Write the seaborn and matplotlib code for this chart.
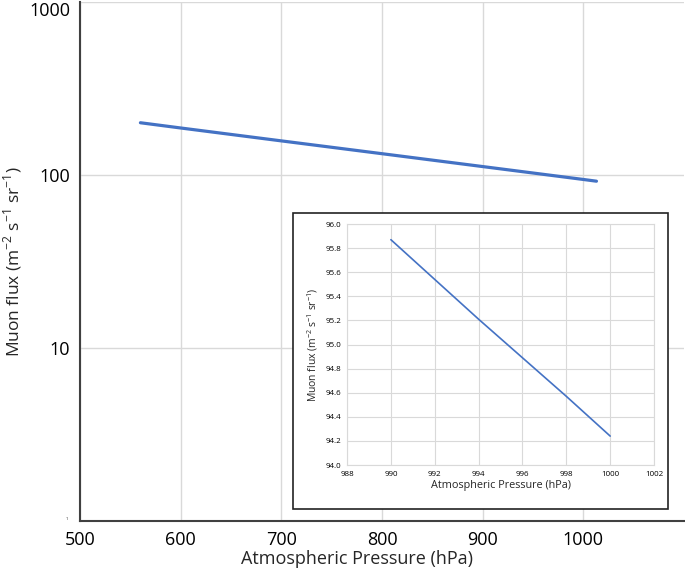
import numpy as np
import pandas as pd
import seaborn as sns
import matplotlib.pyplot as plt
from matplotlib.patches import Rectangle
from matplotlib.ticker import FixedLocator, FixedFormatter, FormatStrFormatter

# main curve
pressure = [560, 600, 700, 800, 900, 1000, 1013]
flux = [200.5, 187.0, 157.5, 132.8, 111.9, 94.24, 92.1]

# inset (zoom around 990-1000 hPa)
inset_pressure = [990, 992, 994, 996, 998, 1000]
inset_flux = [95.87, 95.54, 95.21, 94.89, 94.57, 94.24]

main_df = pd.DataFrame({'pressure': pressure, 'flux': flux})
inset_df = pd.DataFrame({'pressure': inset_pressure, 'flux': inset_flux})

sns.set_theme(style="whitegrid")
plt.rcParams['font.family'] = ['Open Sans', 'DejaVu Sans']
plt.rcParams['mathtext.fontset'] = 'custom'
plt.rcParams['mathtext.rm'] = 'Open Sans'

line_color = '#4472C4'
grid_color = '#d9d9d9'

fig = plt.figure(figsize=(6.85, 5.75), dpi=100)
ax = fig.add_axes([0.1168, 0.0939, 0.8818, 0.9026])

sns.lineplot(data=main_df, x='pressure', y='flux', ax=ax, color=line_color, linewidth=2.3)
ax.set_yscale('log')
ax.set_xlim(500, 1100)
ax.set_ylim(1, 1000)
ax.set_xticks([500, 600, 700, 800, 900, 1000])
ax.yaxis.set_major_locator(FixedLocator([1, 10, 100, 1000]))
ax.yaxis.set_major_formatter(FixedFormatter(['', '10', '100', '1000']))
ax.yaxis.set_minor_locator(FixedLocator([]))
ax.grid(True, color=grid_color, linewidth=1.0)
ax.tick_params(axis='both', labelsize=13, length=0, pad=7, colors='black')
ax.set_xlabel('Atmospheric Pressure (hPa)', fontsize=13, labelpad=3)
ax.xaxis.set_label_coords(0.459, -0.055)
ax.set_ylabel(r'Muon flux (m$^{-2}$ s$^{-1}$ sr$^{-1}$)', fontsize=12.5, labelpad=4)
for side in ['top', 'right']:
    ax.spines[side].set_visible(False)
for side in ['left', 'bottom']:
    ax.spines[side].set_color('#404040')
    ax.spines[side].set_linewidth(1.5)
ax.text(-0.02, 0.003, '1', transform=ax.transAxes, fontsize=3, ha='right', va='center')
fig.canvas.draw()
ax.get_yticklabels()[-1].set_va('top')

# inset frame
frame = Rectangle((0.4277, 0.1148), 0.5475, 0.5148, transform=fig.transFigure,
                  facecolor='white', edgecolor='#222222', linewidth=1.2, zorder=3)
fig.add_artist(frame)

axin = fig.add_axes([0.5066, 0.1913, 0.4482, 0.4191], zorder=4)
sns.lineplot(data=inset_df, x='pressure', y='flux', ax=axin, color=line_color, linewidth=1.2)
axin.set_xlim(988, 1002)
axin.set_ylim(94.0, 96.0)
axin.set_xticks(np.arange(988, 1003, 2))
axin.set_yticks(np.arange(94.0, 96.01, 0.2))
axin.yaxis.set_major_formatter(FormatStrFormatter('%.1f'))
axin.grid(True, color=grid_color, linewidth=0.8)
axin.tick_params(axis='both', labelsize=5.8, length=0, pad=4, colors='black')
axin.set_xlabel('Atmospheric Pressure (hPa)', fontsize=7.8, labelpad=2)
axin.set_ylabel(r'Muon flux (m$^{-2}$ s$^{-1}$ sr$^{-1}$)', fontsize=7.5, labelpad=4)
for side in axin.spines:
    axin.spines[side].set_color(grid_color)
    axin.spines[side].set_linewidth(0.8)

fig.savefig('out.png', dpi=100)
